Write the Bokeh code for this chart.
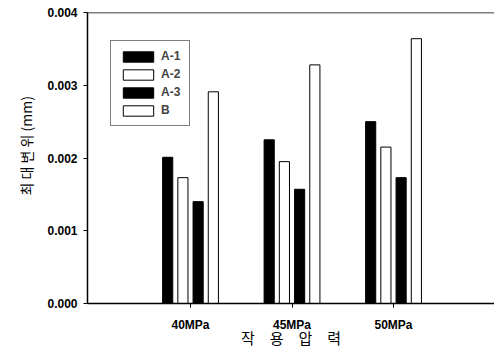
from bokeh.plotting import figure
from bokeh.models import (Range1d, FixedTicker, Legend, LegendItem, Span,
                          ColumnDataSource, Title)
from bokeh.transform import dodge
from bokeh.embed import file_html
from bokeh.resources import INLINE

categories = ["40MPa", "45MPa", "50MPa"]
series_names = ["A-1", "A-2", "A-3", "B"]
a1 = [0.00201, 0.00225, 0.00250]
a2 = [0.00173, 0.00195, 0.00215]
a3 = [0.00140, 0.00157, 0.00173]
b = [0.00291, 0.00328, 0.00364]
y_ticks = [0.0, 0.001, 0.002, 0.003, 0.004]
y_tick_labels = ["0.000", "0.001", "0.002", "0.003", "0.004"]
x_title = "작\u2003용\u2003압\u2003력"
y_title = "최 대 변 위 (mm)"

x_pos = list(range(1, len(categories) + 1))
src = ColumnDataSource(data=dict(x=x_pos, a1=a1, a2=a2, a3=a3, b=b))

p = figure(width=494, height=351, output_backend="svg", toolbar_location=None,
           x_range=Range1d(-0.015, 3.995), y_range=Range1d(0, 0.004),
           min_border_left=87, min_border_right=0, min_border_top=12,
           min_border_bottom=48)
p.outline_line_color = None
p.xgrid.visible = False
p.ygrid.visible = False
p.background_fill_color = "white"
p.border_fill_color = "white"

offsets = [-0.225, -0.075, 0.075, 0.225]
fields = ["a1", "a2", "a3", "b"]
fills = ["black", "white", "black", "white"]
renderers = []
for off, f, c in zip(offsets, fields, fills):
    r = p.vbar(x=dodge("x", off, range=p.x_range), top=f, width=0.1, bottom=0,
               source=src, fill_color=c, line_color="black", line_width=1)
    renderers.append(r)

# axes
p.xaxis.ticker = FixedTicker(ticks=x_pos)
p.xaxis.major_label_overrides = {x: c for x, c in zip(x_pos, categories)}
p.yaxis.ticker = FixedTicker(ticks=y_ticks)
p.yaxis.major_label_overrides = {t: l for t, l in zip(y_ticks, y_tick_labels)}
for ax in (p.xaxis[0], p.yaxis[0]):
    ax.axis_line_color = "black"
    ax.axis_line_width = 1.5
    ax.major_tick_line_color = "black"
    ax.major_tick_line_width = 1
    ax.major_tick_out = 4
    ax.major_tick_in = 0
    ax.minor_tick_line_color = None
    ax.major_label_text_font = "Liberation Sans"
    ax.major_label_text_font_style = "bold"
    ax.major_label_text_color = "black"
p.xaxis.major_label_text_font_size = "12px"
p.xaxis.major_label_standoff = 10
p.xaxis.axis_label = x_title
p.xaxis.axis_label_standoff = -8
p.xaxis.axis_label_text_font = "Noto Sans CJK KR"
p.xaxis.axis_label_text_font_style = "normal"
p.xaxis.axis_label_text_font_size = "15px"
p.xaxis.axis_label_text_color = "black"
p.yaxis.major_label_text_font_size = "12px"
p.yaxis.major_label_standoff = 6

p.add_layout(Title(text=y_title, align="left", offset=108, standoff=17,
                   text_font="Noto Sans CJK KR", text_font_style="normal",
                   text_font_size="14px", text_color="black"), "left")

p.add_layout(Span(location=0.004, dimension="width", line_color="black",
                  line_width=1.5))

legend = Legend(items=[LegendItem(label=n, renderers=[r])
                       for n, r in zip(series_names, renderers)],
                location=(23, 177))
legend.border_line_color = "black"
legend.border_line_width = 1
legend.background_fill_color = "white"
legend.background_fill_alpha = 1
legend.padding = 8
legend.spacing = 4
legend.margin = 0
legend.glyph_width = 38
legend.glyph_height = 13
legend.label_height = 13
legend.label_standoff = 4
legend.label_text_font = "Liberation Sans"
legend.label_text_font_style = "bold"
legend.label_text_font_size = "12px"
p.add_layout(legend)

open("out.html", "w").write(file_html(p, INLINE))
